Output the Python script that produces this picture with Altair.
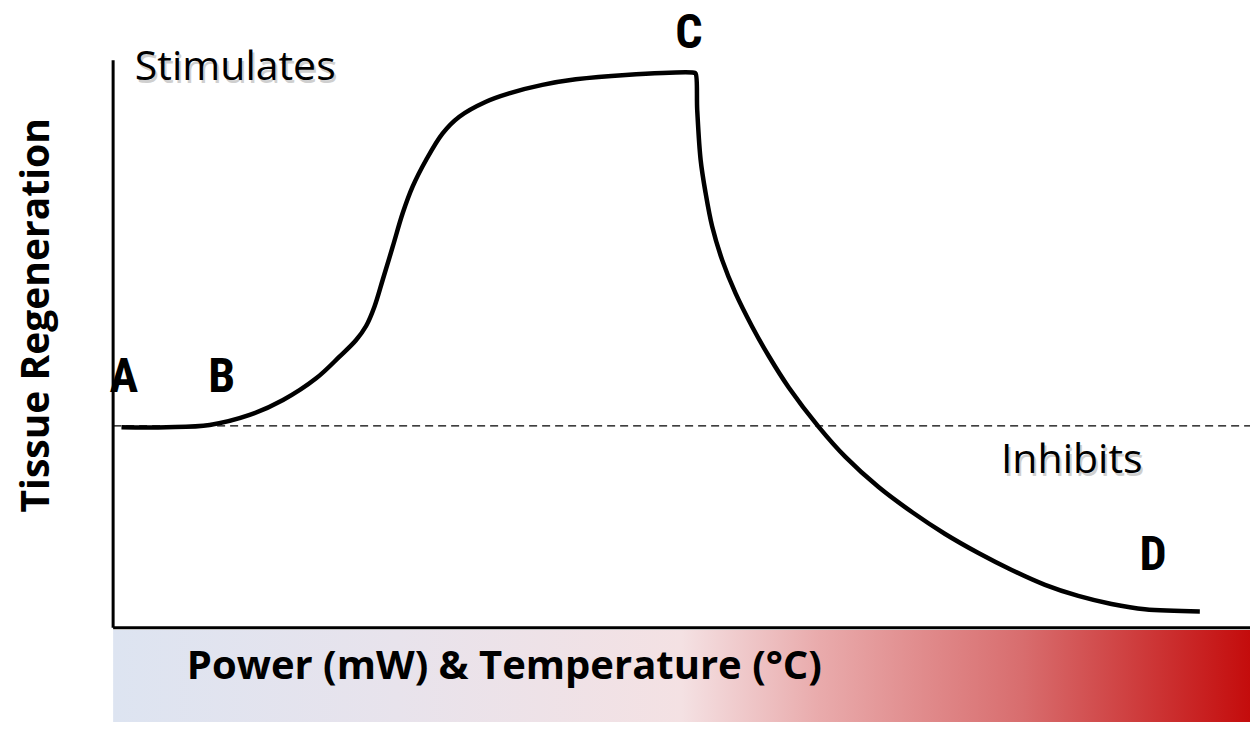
import altair as alt
import pandas as pd

# Curve: power/temperature (x) vs tissue regeneration (y)
curve_x = [0.73, 4.67, 8.45, 11.95, 14.87, 17.77, 19.81, 21.27, 22.14, 22.87, 23.59, 24.47,
           25.34, 26.21, 27.39, 28.84, 30.3, 32.63, 34.66, 37.57, 40.49, 44.86, 50.83,
           50.98, 51.12, 51.42, 51.85, 52.43, 53.3, 54.47, 55.92, 57.38, 59.13,
           61.75, 64.09, 66.99, 69.91, 72.82, 75.73, 78.64, 81.56, 84.47, 87.38, 90.3, 95.11]
curve_y = [36.12, 36.12, 36.54, 38.34, 41.04, 44.95, 48.85, 51.86, 54.38, 57.86, 62.67, 68.67,
           74.69, 79.49, 84.3, 89.11, 92.11, 94.81, 96.32, 97.84, 98.85, 99.64, 100.04,
           99.9, 93.3, 84.3, 78.4, 72.3, 66.3, 60.3, 54.3, 48.97, 43.3,
           36.2, 30.78, 25.35, 20.85, 16.89, 13.46, 10.4, 7.72, 5.72, 4.27, 3.31, 2.92]

baseline_y = 36.36
x_min, x_max = -9.2, 99.5
y_min, y_max = -17.0, 111.7

point_labels = ["A", "B", "C", "D"]
point_label_x = [0.94, 9.5, 50.4, 91.02]
point_label_y = [45.0, 45.0, 107.0, 12.9]

zone_labels = ["Stimulates", "Inhibits"]
zone_label_x = [1.9, 77.7]
zone_label_y = [100.9, 30.0]

y_title = "Tissue Regeneration"
y_title_pos = [-6.7, 56.3]
x_title = "Power (mW) & Temperature (°C)"
x_title_pos = [6.45, -7.1]

xs = alt.Scale(domain=[x_min, x_max], nice=False, zero=False)
ys = alt.Scale(domain=[y_min, y_max], nice=False, zero=False)

curve_df = pd.DataFrame({"x": curve_x, "y": curve_y})
pts_df = pd.DataFrame({"label": point_labels, "x": point_label_x, "y": point_label_y})
zone_df = pd.DataFrame({"label": zone_labels, "x": zone_label_x, "y": zone_label_y})
ytitle_df = pd.DataFrame({"label": [y_title], "x": [y_title_pos[0]], "y": [y_title_pos[1]]})
xtitle_df = pd.DataFrame({"label": [x_title], "x": [x_title_pos[0]], "y": [x_title_pos[1]]})
band_df = pd.DataFrame({"x": [0.0], "x2": [x_max], "y": [-0.4], "y2": [y_min]})
vaxis_df = pd.DataFrame({"x": [0.0], "y": [0.0], "y2": [102.3]})
haxis_df = pd.DataFrame({"x": [0.0], "x2": [x_max], "y": [0.0]})
base_df = pd.DataFrame({"x": [0.0], "x2": [x_max], "y": [baseline_y]})

X = alt.X("x:Q", scale=xs, axis=None)
Y = alt.Y("y:Q", scale=ys, axis=None)

band = alt.Chart(band_df).mark_rect(
    color=alt.Gradient(
        gradient="linear",
        stops=[
            alt.GradientStop(offset=0.0, color="#dde4f1"),
            alt.GradientStop(offset=0.25, color="#e8e3ec"),
            alt.GradientStop(offset=0.5, color="#f4e1e3"),
            alt.GradientStop(offset=0.62, color="#e9abac"),
            alt.GradientStop(offset=0.8, color="#d86d6e"),
            alt.GradientStop(offset=1.0, color="#c40c0c"),
        ],
        x1=0, x2=1, y1=0, y2=0,
    )
).encode(x=X, x2="x2:Q", y=Y, y2="y2:Q")

vaxis = alt.Chart(vaxis_df).mark_rule(color="black", strokeWidth=3).encode(x=X, y=Y, y2="y2:Q")
haxis = alt.Chart(haxis_df).mark_rule(color="black", strokeWidth=3).encode(x=X, x2="x2:Q", y=Y)
baseline = alt.Chart(base_df).mark_rule(color="black", strokeWidth=1.3, strokeDash=[8, 5]).encode(
    x=X, x2="x2:Q", y=Y)

curve = alt.Chart(curve_df).mark_line(color="black", strokeWidth=4.5, interpolate="catmull-rom").encode(
    x=X, y=Y)

pts = alt.Chart(pts_df).mark_text(
    font="Liberation Sans Narrow, Roboto Condensed, Roboto", fontWeight="bold", fontSize=48,
    align="center", baseline="middle", color="black"
).encode(x=X, y=Y, text="label:N")

zone_shadow = alt.Chart(zone_df).mark_text(
    font="Open Sans", fontSize=41, align="left", baseline="middle", color="#777777",
    opacity=0.35, dx=2, dy=3
).encode(x=X, y=Y, text="label:N")
zone = alt.Chart(zone_df).mark_text(
    font="Open Sans", fontSize=41, align="left", baseline="middle", color="black"
).encode(x=X, y=Y, text="label:N")

ytitle = alt.Chart(ytitle_df).mark_text(
    font="Open Sans", fontWeight="bold", fontSize=39, angle=270, align="center",
    baseline="middle", color="black"
).encode(x=X, y=Y, text="label:N")
xtitle = alt.Chart(xtitle_df).mark_text(
    font="Open Sans", fontWeight="bold", fontSize=40, align="left", baseline="middle", color="black"
).encode(x=X, y=Y, text="label:N")

chart = alt.layer(
    band, baseline, vaxis, haxis, curve, pts, zone_shadow, zone, ytitle, xtitle
).properties(
    width=1244, height=714, padding=0,
    autosize=alt.AutoSizeParams(type="fit", contains="padding"),
).configure_view(stroke=None)

chart.save("out.html", embed_options={"renderer": "svg", "actions": False})
